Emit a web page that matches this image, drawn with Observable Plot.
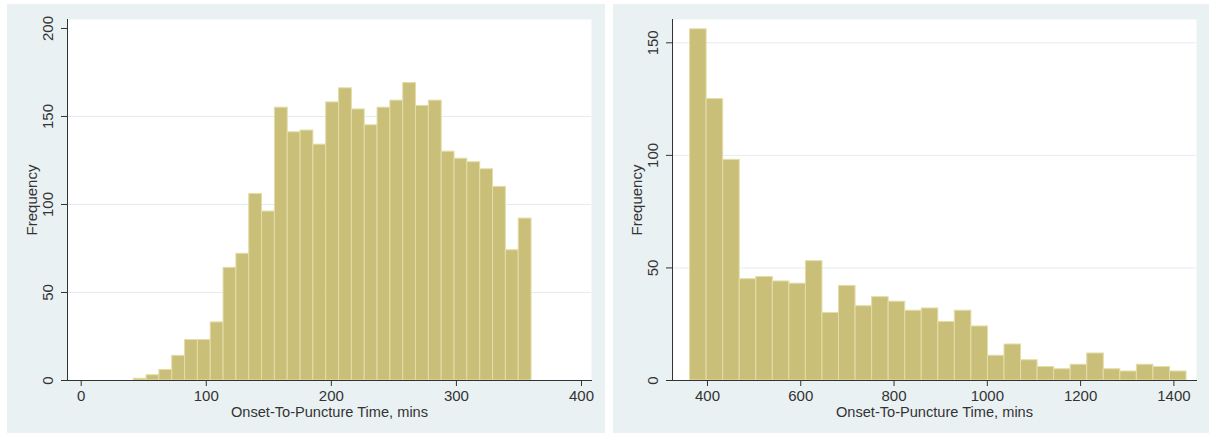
<!DOCTYPE html>
<html>
<head>
<meta charset="utf-8">
<script src="https://cdn.jsdelivr.net/npm/d3@7"></script>
<script src="https://cdn.jsdelivr.net/npm/@observablehq/plot@0.6"></script>
<style>
  html, body { margin: 0; padding: 0; background: #ffffff; width: 1209px; height: 437px; overflow: hidden; }
  .panel { position: absolute; top: 4px; height: 429px; background: #eaf1f3; }
  #left { left: 7px; width: 598px; }
  #right { left: 613px; width: 596px; }
</style>
</head>
<body>
<div id="left" class="panel"></div>
<div id="right" class="panel"></div>
<script>
// ---- Data ----
const xTitle = "Onset-To-Puncture Time, mins";
const yTitle = "Frequency";

// Left histogram: onset-to-puncture time up to 6 h
const leftBinStart = 42;      // minutes
const leftBinWidth = 10.26;   // minutes
const leftCounts = [1, 3, 6, 14, 23, 23, 33, 64, 72, 106, 96, 155, 141, 142, 134, 158, 166, 154, 145, 155, 159, 169, 156, 159, 130, 126, 124, 120, 110, 74, 92];
const leftXTicks = [0, 100, 200, 300, 400];
const leftYTicks = [0, 50, 100, 150, 200];
const leftGrid = [50, 100, 150];

// Right histogram: onset-to-puncture time beyond 6 h
const rightBinStart = 362.7;  // minutes
const rightBinWidth = 35.48;  // minutes
const rightCounts = [156, 125, 98, 45, 46, 44, 43, 53, 30, 42, 33, 37, 35, 31, 32, 26, 31, 24, 11, 16, 9, 6, 5, 7, 12, 5, 4, 7, 6, 4];
const rightXTicks = [400, 600, 800, 1000, 1200, 1400];
const rightYTicks = [0, 50, 100, 150];
const rightGrid = [50, 100, 150];

// ---- Styling ----
const barFill = "#c9bf79";
const barStroke = "#e4dda8";
const axisColor = "#333333";
const gridColor = "#e4ecee";
const panelBg = "#eaf1f3";
const font = "'Liberation Sans', Arial, Helvetica, sans-serif";

function bins(start, width, counts) {
  return counts.map((c, i) => ({x1: start + i * width, x2: start + (i + 1) * width, count: c}));
}

function histogram({width, marginLeft, marginRight, xDomain, yDomain, data, xTicks, yTicks, grid}) {
  return Plot.plot({
    width,
    height: 429,
    marginTop: 15,
    marginBottom: 53,
    marginLeft,
    marginRight,
    style: {background: panelBg, fontFamily: font, fontSize: "15px", color: axisColor},
    x: {domain: xDomain, label: null},
    y: {domain: yDomain, label: null},
    marks: [
      Plot.frame({fill: "white", stroke: "none"}),
      Plot.gridY(grid, {stroke: gridColor, strokeOpacity: 1, strokeWidth: 1}),
      Plot.rectY(data, {x1: "x1", x2: "x2", y: "count", fill: barFill, stroke: barStroke, strokeWidth: 1}),
      Plot.frame({anchor: "left", stroke: axisColor, strokeWidth: 1}),
      Plot.frame({anchor: "bottom", stroke: axisColor, strokeWidth: 1}),
      Plot.axisX({ticks: xTicks, tickSize: 6, tickPadding: 3.5, tickFormat: d => String(d), label: null, color: axisColor}),
      Plot.axisY({ticks: yTicks, tickSize: 6, tickPadding: 8.5, tickRotate: -90, tickFormat: d => String(d), label: null, color: axisColor}),
      Plot.text([xTitle], {frameAnchor: "bottom", dy: 36.5, lineAnchor: "bottom", textAnchor: "middle", fill: axisColor, fontSize: 14.6}),
      Plot.text([yTitle], {frameAnchor: "left", dx: -30.5, rotate: -90, lineAnchor: "bottom", textAnchor: "middle", fill: axisColor, fontSize: 15})
    ]
  });
}

document.getElementById("left").append(histogram({
  width: 598, marginLeft: 60, marginRight: 14,
  xDomain: [-10.95, 408], yDomain: [0, 205.1],
  data: bins(leftBinStart, leftBinWidth, leftCounts),
  xTicks: leftXTicks, yTicks: leftYTicks, grid: leftGrid
}));

document.getElementById("right").append(histogram({
  width: 596, marginLeft: 59, marginRight: 13,
  xDomain: [325, 1448.5], yDomain: [0, 160.35],
  data: bins(rightBinStart, rightBinWidth, rightCounts),
  xTicks: rightXTicks, yTicks: rightYTicks, grid: rightGrid
}));
</script>
</body>
</html>
